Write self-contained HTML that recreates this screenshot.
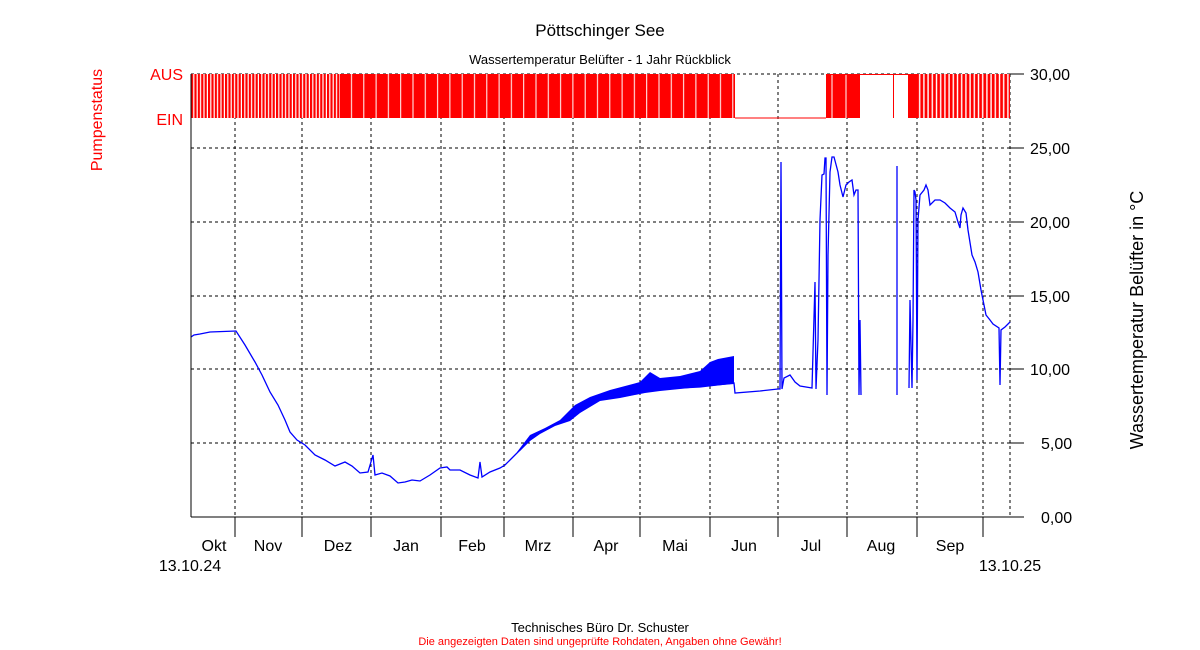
<!DOCTYPE html>
<html><head><meta charset="utf-8"><style>
html,body{margin:0;padding:0;background:#fff;}
svg{display:block;font-family:"Liberation Sans",sans-serif;}
</style></head><body>
<svg width="1200" height="650" viewBox="0 0 1200 650">
<defs>
<pattern id="p1" x="191" y="0" width="3.4" height="10" patternUnits="userSpaceOnUse"><rect width="3.4" height="10" fill="#f00"/><rect x="2.2" width="1.2" height="10" fill="#fff"/></pattern>
<pattern id="p2" x="340" y="0" width="12.3" height="10" patternUnits="userSpaceOnUse"><rect width="12.3" height="10" fill="#f00"/><rect x="11" width="1" height="10" fill="#fff"/></pattern>
<pattern id="p3" x="908" y="0" width="4.2" height="10" patternUnits="userSpaceOnUse"><rect width="4.2" height="10" fill="#f00"/><rect x="2.6" width="1.4" height="10" fill="#fff"/></pattern>
</defs>
<text x="600" y="36" font-size="17" text-anchor="middle">Pöttschinger See</text>
<text x="600" y="64" font-size="13" text-anchor="middle">Wassertemperatur Belüfter - 1 Jahr Rückblick</text>
<g stroke="#000" stroke-dasharray="3,3" stroke-width="1" shape-rendering="crispEdges">
<line x1="191" y1="74" x2="1021" y2="74"/><line x1="191" y1="148" x2="1021" y2="148"/><line x1="191" y1="222" x2="1021" y2="222"/><line x1="191" y1="296" x2="1021" y2="296"/><line x1="191" y1="369" x2="1021" y2="369"/><line x1="191" y1="443" x2="1021" y2="443"/>
<line x1="235" y1="74" x2="235" y2="517"/><line x1="302" y1="74" x2="302" y2="517"/><line x1="371" y1="74" x2="371" y2="517"/><line x1="441" y1="74" x2="441" y2="517"/><line x1="504" y1="74" x2="504" y2="517"/><line x1="573" y1="74" x2="573" y2="517"/><line x1="640" y1="74" x2="640" y2="517"/><line x1="710" y1="74" x2="710" y2="517"/><line x1="778" y1="74" x2="778" y2="517"/><line x1="847" y1="74" x2="847" y2="517"/><line x1="917" y1="74" x2="917" y2="517"/><line x1="983" y1="74" x2="983" y2="517"/><line x1="1010" y1="74" x2="1010" y2="517"/>
</g>
<rect x="191" y="74" width="149" height="44" fill="url(#p1)"/>
<rect x="340" y="74" width="395" height="44" fill="url(#p2)"/>
<line x1="735" y1="118" x2="826" y2="118" stroke="#f00"/>
<rect x="826" y="74" width="34" height="44" fill="#f00"/>
<line x1="832" y1="74" x2="832" y2="118" stroke="#fff"/><line x1="846" y1="74" x2="846" y2="118" stroke="#fff"/>
<line x1="826" y1="74.5" x2="1010" y2="74.5" stroke="#f00"/>
<line x1="893.5" y1="74" x2="893.5" y2="118" stroke="#f00"/>
<rect x="908" y="74" width="102" height="44" fill="url(#p3)"/>
<rect x="908" y="74" width="10" height="44" fill="#f00"/>
<g fill="none" stroke="#00f" stroke-width="1.3">
<polyline points="191,337 194,335 200,334 210,332 236,331 245,345 255,362 262,375 270,392 278,405 285,420 290,432 297,440 305,445 315,455 325,460 335,466 340,464 345,462 352,466 360,473 368,472 373,455 375,475 382,473 390,476 398,483 405,482 412,480 420,481 430,475 440,468 447,467 450,470 460,470 470,475 478,478 480,462 482,477 490,472 500,468 505,465 510,460 515,455 520,450 530,440 540,433 555,425 570,420 580,412 600,400 620,397 645,392 660,390 680,388 700,387 734,383 735,393 760,391 778,389 780,389 781,162 782,389 784,378 790,375 795,382 800,386 812,388 815,282 816,389 818,340 820,220 822,175 824,174 825,158 826,158 827,395 828,255 830,172 832,157 834,157 838,172 840,185 843,197 846,185 849,182 852,180 854,195 856,190 858,190 859,395 860,320 861,395"/>
<line x1="897" y1="166" x2="897" y2="395"/>
<polyline points="909,388 910,300 912,388 913,320 914,190 915,192 916,200 917,380 918,220 920,195 924,190 926,185 928,190 930,205 935,200 940,200 945,203 950,208 955,212 958,222 960,228 961,215 963,208 966,213 968,230 972,255 975,262 978,272 981,290 984,305 986,315 990,320 993,324 999,328 1000,385 1001,330 1005,327 1010,322"/>
</g>
<polygon points="517,452 530,435 545,428 560,420 575,405 590,397 610,390 640,382 650,372 660,378 680,376 700,371 710,362 718,359 734,356 734,384 700,387 680,389 660,391 645,393 620,398 600,401 580,413 570,421 555,426 540,434 530,441 520,451" fill="#00f"/>
<g stroke="#000" shape-rendering="crispEdges">
<line x1="191" y1="74" x2="191" y2="517"/>
<line x1="191" y1="517" x2="1024" y2="517"/>
<line x1="1010" y1="74" x2="1024" y2="74"/><line x1="1010" y1="148" x2="1024" y2="148"/><line x1="1010" y1="222" x2="1024" y2="222"/><line x1="1010" y1="296" x2="1024" y2="296"/><line x1="1010" y1="369" x2="1024" y2="369"/><line x1="1010" y1="443" x2="1024" y2="443"/>
<line x1="235" y1="517" x2="235" y2="537"/><line x1="302" y1="517" x2="302" y2="537"/><line x1="371" y1="517" x2="371" y2="537"/><line x1="441" y1="517" x2="441" y2="537"/><line x1="504" y1="517" x2="504" y2="537"/><line x1="573" y1="517" x2="573" y2="537"/><line x1="640" y1="517" x2="640" y2="537"/><line x1="710" y1="517" x2="710" y2="537"/><line x1="778" y1="517" x2="778" y2="537"/><line x1="847" y1="517" x2="847" y2="537"/><line x1="917" y1="517" x2="917" y2="537"/><line x1="983" y1="517" x2="983" y2="537"/>
</g>
<g font-size="16" text-anchor="start">
<text x="1030" y="80">30,00</text><text x="1030" y="154">25,00</text><text x="1030" y="228">20,00</text><text x="1030" y="302">15,00</text><text x="1030" y="375">10,00</text><text x="1041" y="449">5,00</text><text x="1041" y="523">0,00</text>
</g>
<g font-size="16" text-anchor="middle">
<text x="214" y="551">Okt</text><text x="268" y="551">Nov</text><text x="338" y="551">Dez</text><text x="406" y="551">Jan</text><text x="472" y="551">Feb</text><text x="538" y="551">Mrz</text><text x="606" y="551">Apr</text><text x="675" y="551">Mai</text><text x="744" y="551">Jun</text><text x="811" y="551">Jul</text><text x="881" y="551">Aug</text><text x="950" y="551">Sep</text>
<text x="190" y="571">13.10.24</text><text x="1010" y="571">13.10.25</text>
</g>
<text transform="translate(1143,320) rotate(-90)" font-size="18" text-anchor="middle">Wassertemperatur Belüfter in °C</text>
<g fill="#f00" font-size="16">
<text x="183" y="80" text-anchor="end">AUS</text><text x="183" y="125" text-anchor="end">EIN</text>
<text transform="translate(102,120) rotate(-90)" text-anchor="middle">Pumpenstatus</text>
</g>
<text x="600" y="632" font-size="13" text-anchor="middle">Technisches Büro Dr. Schuster</text>
<text x="600" y="645" font-size="11" text-anchor="middle" fill="#f00">Die angezeigten Daten sind ungeprüfte Rohdaten, Angaben ohne Gewähr!</text>
</svg>
</body></html>
